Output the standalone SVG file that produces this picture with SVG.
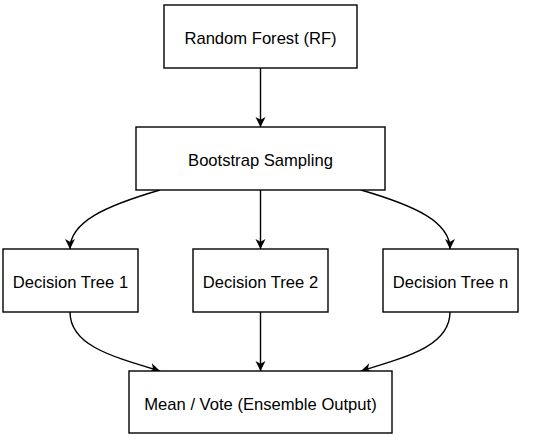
<svg xmlns="http://www.w3.org/2000/svg" width="550" height="439" viewBox="0 0 550 439">
<style>
.box{fill:#fff;stroke:#000;stroke-width:1.4}
.lbl{font-family:"Liberation Sans",Arial,sans-serif;font-size:16.6px;fill:#000;text-anchor:middle}
.edge{fill:none;stroke:#000;stroke-width:1.4}
</style>
<defs>
<marker id="arr" markerWidth="12" markerHeight="12" refX="10" refY="5.5" orient="auto" markerUnits="userSpaceOnUse">
<path d="M0,0.5 L10,5.5 L0,10.5 L2.8,5.5 Z" fill="#000"/>
</marker>
</defs>
<rect width="550" height="439" fill="#fff"/>
<g id="edges">
<path class="edge" d="M260.5,68 L260.5,127" marker-end="url(#arr)"/>
<path class="edge" d="M160,190 C105,206 70,222 70,249" marker-end="url(#arr)"/>
<path class="edge" d="M260.5,190 L260.5,249" marker-end="url(#arr)"/>
<path class="edge" d="M361,190 C416,206 450,222 450,249" marker-end="url(#arr)"/>
<path class="edge" d="M70,312 C70,345 110,356 160,371" marker-end="url(#arr)"/>
<path class="edge" d="M260.5,312 L260.5,371" marker-end="url(#arr)"/>
<path class="edge" d="M450,312 C450,345 410,356 361,371" marker-end="url(#arr)"/>
</g>
<g id="rf"><rect class="box" x="164" y="5" width="193" height="63"/><text class="lbl" x="260.5" y="43.5">Random Forest (RF)</text></g>
<g id="bootstrap"><rect class="box" x="136" y="127" width="249" height="63"/><text class="lbl" x="260.5" y="165.5">Bootstrap Sampling</text></g>
<g id="tree1"><rect class="box" x="3" y="249" width="135" height="63"/><text class="lbl" x="70.5" y="287.5">Decision Tree 1</text></g>
<g id="tree2"><rect class="box" x="193" y="249" width="135" height="63"/><text class="lbl" x="260.5" y="287.5">Decision Tree 2</text></g>
<g id="treen"><rect class="box" x="383" y="249" width="135" height="63"/><text class="lbl" x="450.5" y="287.5">Decision Tree n</text></g>
<g id="mean"><rect class="box" x="129" y="371" width="263" height="62"/><text class="lbl" x="260.5" y="409.5">Mean / Vote (Ensemble Output)</text></g>
</svg>
